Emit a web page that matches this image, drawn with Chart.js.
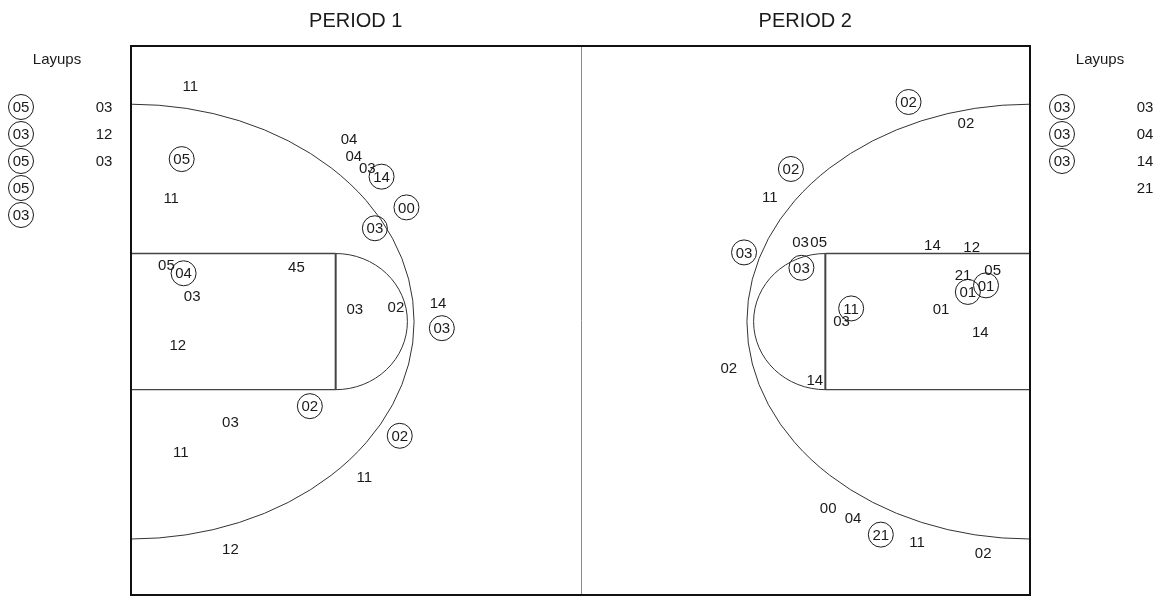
<!DOCTYPE html>
<html>
<head>
<meta charset="utf-8">
<title>Shot chart</title>
<script src="https://cdn.jsdelivr.net/npm/chart.js@4.4.0/dist/chart.umd.min.js"></script>
<style>
  html, body { margin: 0; padding: 0; background: #fff; }
  #wrap { position: relative; width: 1158px; height: 597px; }
</style>
</head>
<body>
<div id="wrap"><canvas id="shotChart"></canvas></div>
<script>
// court is 94 x 50 ft, x along the length, y measured from the top sideline
const periodTitles = ['PERIOD 1', 'PERIOD 2'];

// period 1 - circled shots
const p1MadePlayers = ['05', '14', '00', '03', '04', '03', '02', '02'];
const p1MadeX = [5.3, 26.2, 28.8, 25.5, 5.5, 32.5, 18.7, 28.1];
const p1MadeY = [10.3, 11.9, 14.7, 16.6, 20.7, 25.7, 32.8, 35.5];

// period 1 - plain shots
const p1MissPlayers = ['11', '04', '04', '03', '11', '05', '45', '03', '03', '02', '14', '12', '03', '11', '11', '12'];
const p1MissX = [6.2, 22.8, 23.3, 24.7, 4.2, 3.7, 17.3, 6.4, 23.4, 27.7, 32.1, 4.9, 10.4, 5.2, 24.4, 10.4];
const p1MissY = [3.6, 8.5, 10.0, 11.1, 13.8, 19.9, 20.1, 22.8, 23.9, 23.8, 23.4, 27.2, 34.2, 37.0, 39.2, 45.8];

// period 2 - circled shots
const p2MadePlayers = ['02', '02', '03', '03', '11', '01', '01', '21'];
const p2MadeX = [81.3, 69.0, 64.1, 70.1, 75.3, 87.5, 89.4, 78.4];
const p2MadeY = [5.1, 11.2, 18.8, 20.2, 23.9, 22.4, 21.8, 44.5];

// period 2 - plain shots
const p2MissPlayers = ['02', '11', '03', '05', '14', '12', '21', '05', '01', '03', '14', '02', '14', '00', '04', '11', '02'];
const p2MissX = [87.3, 66.8, 70.0, 71.9, 83.8, 87.9, 87.0, 90.1, 84.7, 74.3, 88.8, 62.5, 71.5, 72.9, 75.5, 82.2, 89.1];
const p2MissY = [7.0, 13.7, 17.8, 17.8, 18.1, 18.3, 20.8, 20.4, 23.9, 25.0, 26.0, 29.3, 30.4, 42.1, 43.0, 45.2, 46.2];

// layups listed beside each half
const p1LayupsMade = ['05', '03', '05', '05', '03'];
const p1LayupsMissed = ['03', '12', '03'];
const p2LayupsMade = ['03', '03', '03'];
const p2LayupsMissed = ['03', '04', '14', '21'];

// court markings (ft)
const COURT_LEN = 94;
const COURT_WID = 50;
const MID_Y = 25.1;
const KEY_LEN = 21.4;
const KEY_HALF = 6.2;
const FT_RX = 7.5;
const FT_RY = 6.2;
const ARC_RX = 29.6;
const ARC_RY = 19.8;

const FONT = '15px "Liberation Sans", Arial, sans-serif';
const INK = '#1a1a1a';
const RING = 12.5;

function toPoints(xs, ys) {
  return xs.map((x, i) => ({ x: x, y: ys[i] }));
}

function shotSet(players, xs, ys, circled) {
  return {
    data: toPoints(xs, ys),
    players: players,
    pointRadius: circled ? RING : 0,
    pointHoverRadius: circled ? RING : 0,
    pointBorderWidth: 1,
    pointBorderColor: INK,
    pointBackgroundColor: 'rgba(0,0,0,0)',
    clip: false,
  };
}

const courtPlugin = {
  id: 'court',
  beforeDatasetsDraw(chart) {
    const { ctx, chartArea: area } = chart;
    const sx = chart.scales.x;
    const sy = chart.scales.y;
    const px = v => sx.getPixelForValue(v);
    const py = v => sy.getPixelForValue(v);
    const w = v => Math.abs(px(v) - px(0));
    const h = v => Math.abs(py(v) - py(0));

    ctx.save();
    // half court line
    ctx.strokeStyle = '#8a8a8a';
    ctx.lineWidth = 1;
    ctx.beginPath();
    ctx.moveTo(Math.round(px(COURT_LEN / 2)) + 0.5, area.top);
    ctx.lineTo(Math.round(px(COURT_LEN / 2)) + 0.5, area.bottom);
    ctx.stroke();

    [0, COURT_LEN].forEach((base, side) => {
      const dir = side === 0 ? 1 : -1;
      const ftX = base + dir * KEY_LEN;

      // lane
      ctx.strokeStyle = '#444';
      ctx.lineWidth = 1.3;
      ctx.beginPath();
      ctx.moveTo(px(base), py(MID_Y - KEY_HALF));
      ctx.lineTo(px(ftX), py(MID_Y - KEY_HALF));
      ctx.moveTo(px(base), py(MID_Y + KEY_HALF));
      ctx.lineTo(px(ftX), py(MID_Y + KEY_HALF));
      ctx.stroke();

      ctx.lineWidth = 2;
      ctx.beginPath();
      ctx.moveTo(px(ftX), py(MID_Y - KEY_HALF));
      ctx.lineTo(px(ftX), py(MID_Y + KEY_HALF));
      ctx.stroke();

      const start = side === 0 ? -Math.PI / 2 : Math.PI / 2;
      const end = side === 0 ? Math.PI / 2 : Math.PI * 1.5;

      // free throw circle
      ctx.lineWidth = 1;
      ctx.strokeStyle = '#333';
      ctx.beginPath();
      ctx.ellipse(px(ftX), py(MID_Y), w(FT_RX), h(FT_RY), 0, start, end);
      ctx.stroke();

      // three point arc
      ctx.beginPath();
      ctx.ellipse(px(base), py(MID_Y), w(ARC_RX), h(ARC_RY), 0, start, end);
      ctx.stroke();
    });
    ctx.restore();
  },
  afterDatasetsDraw(chart) {
    const { ctx } = chart;
    ctx.save();
    ctx.font = FONT;
    ctx.fillStyle = INK;
    ctx.textAlign = 'center';
    ctx.textBaseline = 'middle';
    chart.data.datasets.forEach((ds, i) => {
      chart.getDatasetMeta(i).data.forEach((pt, j) => {
        ctx.fillText(ds.players[j], pt.x, pt.y + 1);
      });
    });
    ctx.restore();
  },
  afterDraw(chart) {
    const { ctx, chartArea: area } = chart;
    const sx = chart.scales.x;
    ctx.save();

    // outer boundary
    ctx.strokeStyle = '#111';
    ctx.lineWidth = 2;
    ctx.strokeRect(area.left, area.top, area.right - area.left, area.bottom - area.top);

    // titles above each half
    ctx.fillStyle = INK;
    ctx.textAlign = 'center';
    ctx.textBaseline = 'middle';
    ctx.font = '20px "Liberation Sans", Arial, sans-serif';
    ctx.fillText(periodTitles[0], sx.getPixelForValue(COURT_LEN / 4), 21);
    ctx.fillText(periodTitles[1], sx.getPixelForValue(COURT_LEN * 3 / 4), 21);

    // layup columns
    ctx.font = FONT;
    const drawLayups = (made, missed, leftX, rightX, headX) => {
      ctx.fillText('Layups', headX, 60);
      made.forEach((n, i) => {
        const cy = 107 + i * 27;
        ctx.beginPath();
        ctx.arc(leftX, cy, RING, 0, Math.PI * 2);
        ctx.lineWidth = 1;
        ctx.strokeStyle = INK;
        ctx.stroke();
        ctx.fillText(n, leftX, cy + 1);
      });
      missed.forEach((n, i) => {
        ctx.fillText(n, rightX, 107 + i * 27 + 1);
      });
    };
    drawLayups(p1LayupsMade, p1LayupsMissed, 21, 104, 57);
    drawLayups(p2LayupsMade, p2LayupsMissed, 1062, 1145, 1100);
    ctx.restore();
  },
};

new Chart(document.getElementById('shotChart'), {
  type: 'scatter',
  data: {
    datasets: [
      shotSet(p1MissPlayers, p1MissX, p1MissY, false),
      shotSet(p2MissPlayers, p2MissX, p2MissY, false),
      shotSet(p1MadePlayers, p1MadeX, p1MadeY, true),
      shotSet(p2MadePlayers, p2MadeX, p2MadeY, true),
    ],
  },
  options: {
    responsive: true,
    maintainAspectRatio: false,
    animation: false,
    devicePixelRatio: 1,
    layout: { autoPadding: false, padding: { left: 131, right: 128, top: 46, bottom: 2 } },
    plugins: {
      legend: { display: false },
      tooltip: { enabled: false },
    },
    events: [],
    scales: {
      x: { type: 'linear', min: 0, max: COURT_LEN, display: false },
      y: { type: 'linear', min: 0, max: COURT_WID, reverse: true, display: false },
    },
  },
  plugins: [courtPlugin],
});
</script>
</body>
</html>
